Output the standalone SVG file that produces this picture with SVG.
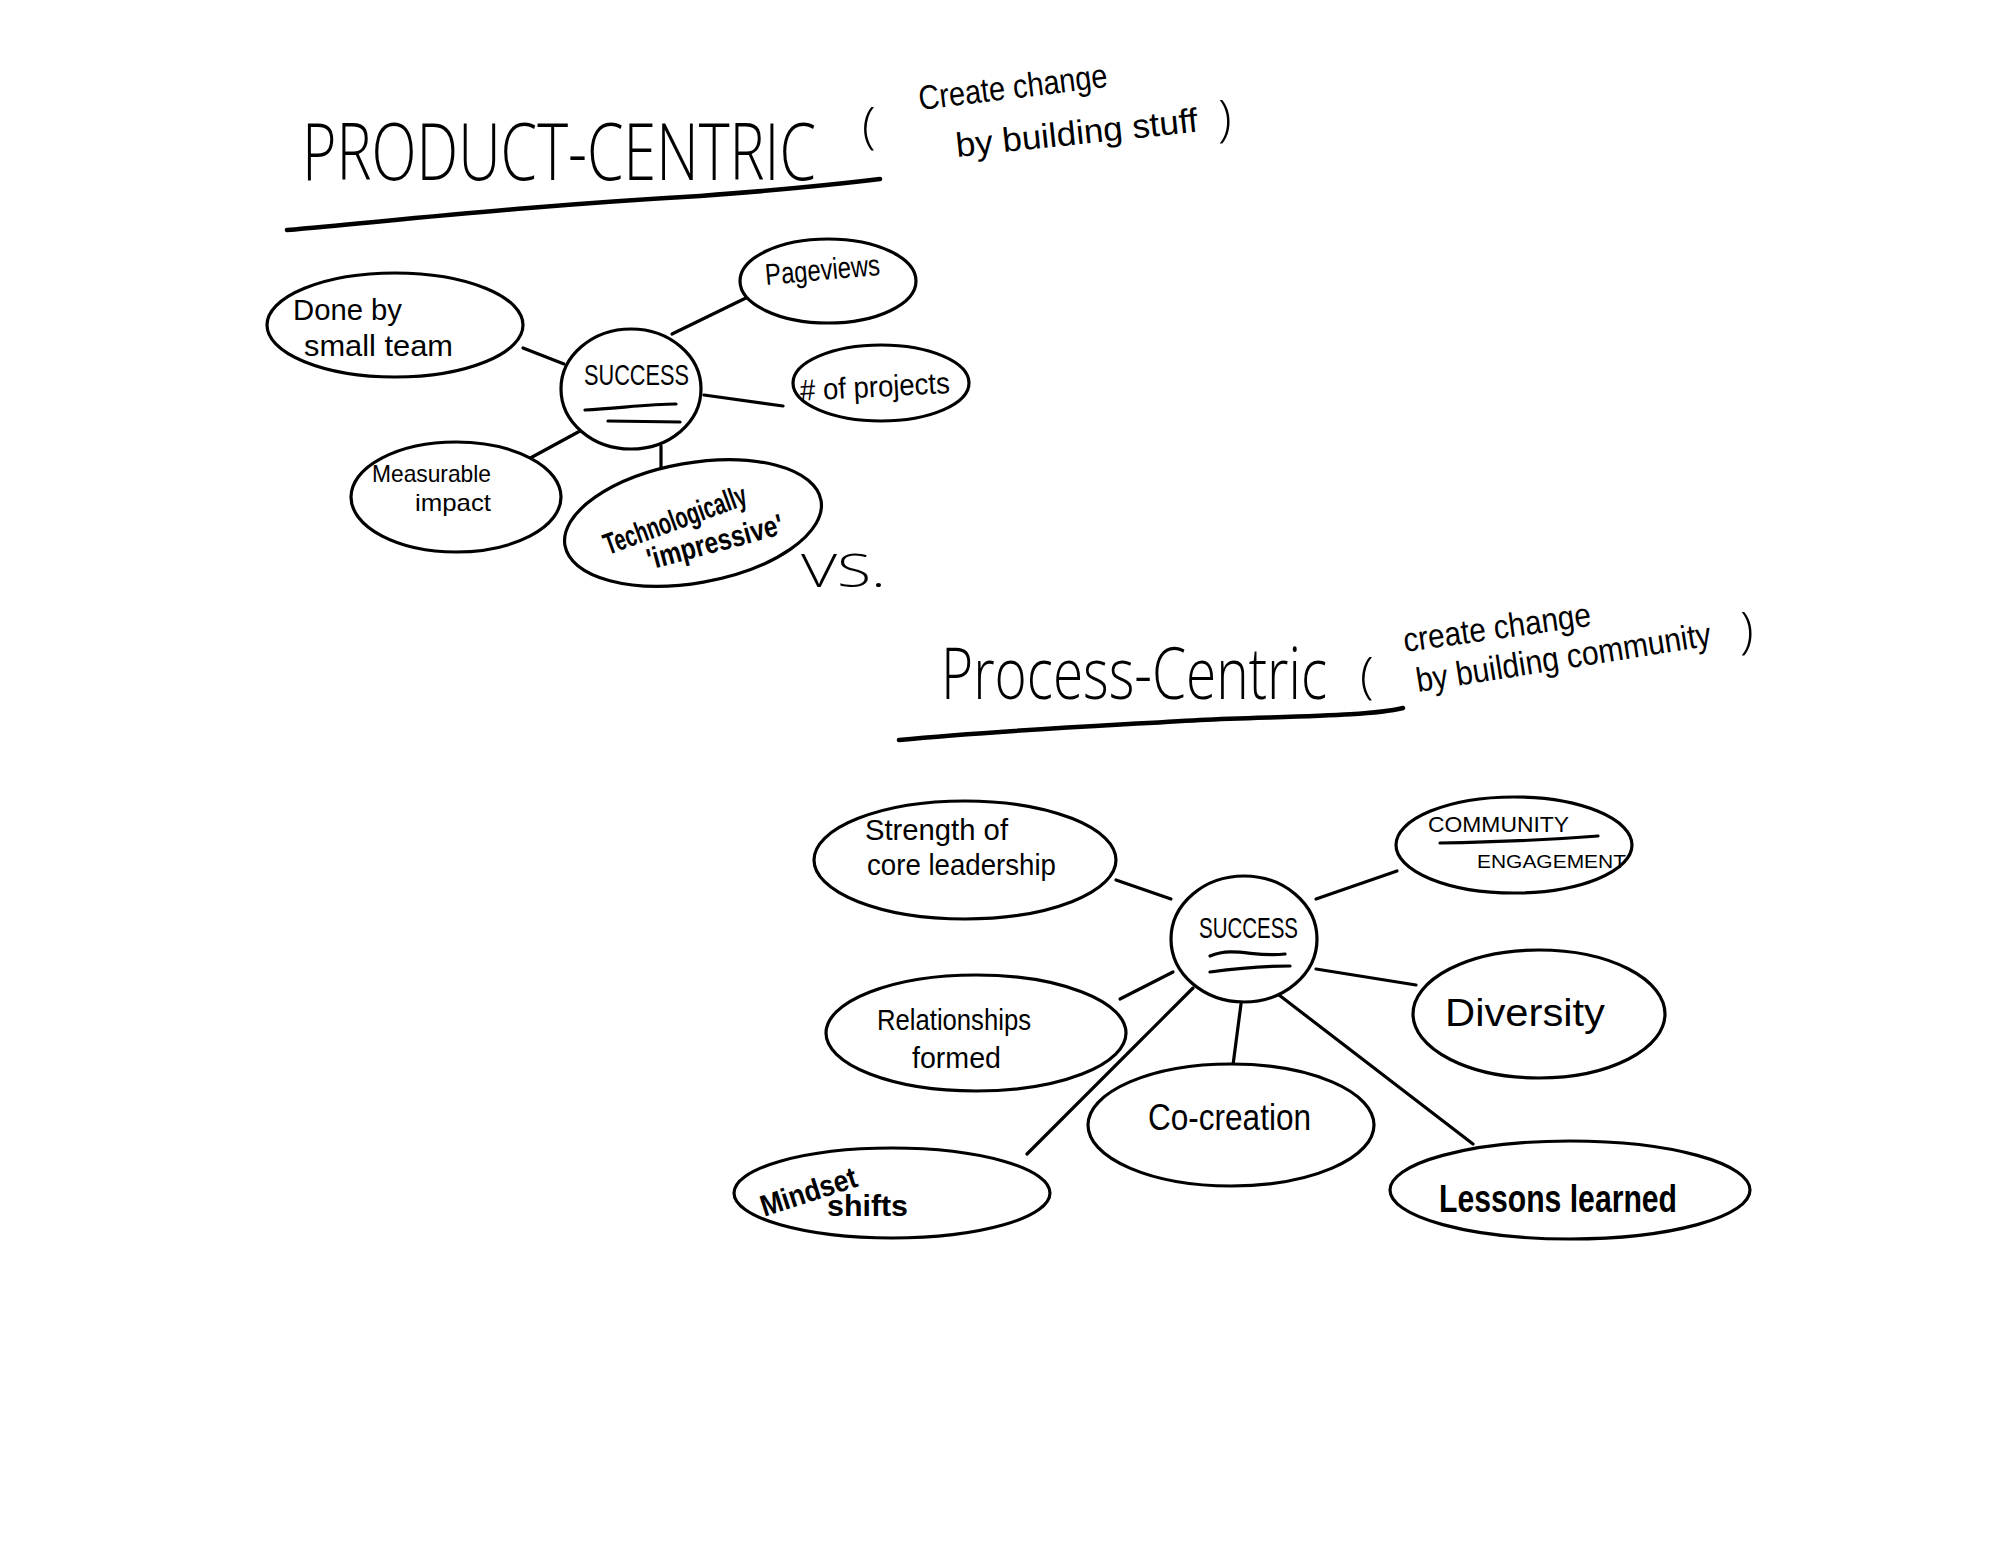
<svg xmlns="http://www.w3.org/2000/svg" width="2000" height="1545" viewBox="0 0 2000 1545">
<style>
.n{fill:#fff;stroke:#000;stroke-width:3.2}
.c{fill:none;stroke:#000;stroke-width:3.2;stroke-linecap:round}
.u{fill:none;stroke:#000;stroke-width:4.5;stroke-linecap:round}
text{font-family:"Liberation Sans",Arial,sans-serif;fill:#000}
.t{font-size:30px}
.h{font-size:80px;font-family:"DejaVu Sans ExtraLight","Open Sans","Liberation Sans",sans-serif;font-weight:200}
.s{font-size:34px}
</style>
<rect width="2000" height="1545" fill="#fff"/>
<g id="title-product">
<text class="h" x="302" y="180" textLength="514" lengthAdjust="spacingAndGlyphs">PRODUCT-CENTRIC</text>
<text class="h" x="862" y="143" style="font-size:50px">(</text>
<text class="s" x="920" y="110" textLength="190" lengthAdjust="spacingAndGlyphs" transform="rotate(-7 920 110)">Create change</text>
<text class="s" x="957" y="157" textLength="243" lengthAdjust="spacingAndGlyphs" transform="rotate(-6 957 157)">by building stuff</text>
<text class="h" x="1218" y="136" style="font-size:50px">)</text>
<path class="u" d="M287,230 C420,218 540,205 700,196 C780,190 840,184 880,179"/>
</g>
<g id="connectors">
<path class="c" d="M523,348 L564,364"/>
<path class="c" d="M672,334 L750,296"/>
<path class="c" d="M704,395 L783,406"/>
<path class="c" d="M580,431 L523,462"/>
<path class="c" d="M661,446 L661,475"/>
<path class="c" d="M1116,880 L1171,899"/>
<path class="c" d="M1397,871 L1316,899"/>
<path class="c" d="M1316,969 L1416,985"/>
<path class="c" d="M1173,972 L1120,999"/>
<path class="c" d="M1193,988 L1027,1154"/>
<path class="c" d="M1241,1004 L1233,1065"/>
<path class="c" d="M1279,995 L1473,1144"/>
</g>
<g id="p-done">
<ellipse class="n" cx="395" cy="325" rx="128" ry="52"/>
<text class="t" x="293" y="320" textLength="109" lengthAdjust="spacingAndGlyphs">Done by</text>
<text class="t" x="304" y="356" textLength="149" lengthAdjust="spacingAndGlyphs">small team</text>
</g>
<g id="p-success">
<ellipse class="n" cx="631" cy="389" rx="70" ry="60"/>
<text class="t" x="584" y="385" textLength="105" lengthAdjust="spacingAndGlyphs">SUCCESS</text>
<path class="c" d="M585,410 C620,408 650,404 676,404"/>
<path class="c" d="M608,421 L680,422"/>
</g>
<g id="p-pageviews">
<ellipse class="n" cx="828" cy="281" rx="88" ry="42"/>
<text class="t" x="765" y="280" textLength="115" lengthAdjust="spacingAndGlyphs" transform="rotate(-5 822 270)">Pageviews</text>
</g>
<g id="p-projects">
<ellipse class="n" cx="881" cy="383" rx="88" ry="38"/>
<text class="t" x="800" y="397" textLength="150" lengthAdjust="spacingAndGlyphs" transform="rotate(-3 873 390)"># of projects</text>
</g>
<g id="p-measurable">
<ellipse class="n" cx="456" cy="497" rx="105" ry="55"/>
<text class="t" x="372" y="482" textLength="119" lengthAdjust="spacingAndGlyphs" style="font-size:24px">Measurable</text>
<text class="t" x="415" y="511" textLength="76" lengthAdjust="spacingAndGlyphs" style="font-size:24px">impact</text>
</g>
<g id="p-tech">
<ellipse class="n" cx="693" cy="523" rx="130" ry="60" transform="rotate(-10 693 523)"/>
<text class="t" x="600" y="530" textLength="150" lengthAdjust="spacingAndGlyphs" transform="rotate(-20 675 520)" font-weight="bold">Technologically</text>
<text class="t" x="645" y="552" textLength="140" lengthAdjust="spacingAndGlyphs" transform="rotate(-15 715 542)" font-weight="bold">'impressive'</text>
</g>
<text class="h" x="801" y="587" textLength="85" lengthAdjust="spacingAndGlyphs" style="font-size:46px">VS.</text>
<g id="title-process">
<text class="h" x="941" y="699" textLength="386" lengthAdjust="spacingAndGlyphs" style="font-size:72px">Process-Centric</text>
<text class="h" x="1360" y="693" style="font-size:50px">(</text>
<text class="s" x="1405" y="652" textLength="189" lengthAdjust="spacingAndGlyphs" transform="rotate(-8 1405 652)">create change</text>
<text class="s" x="1418" y="692" textLength="298" lengthAdjust="spacingAndGlyphs" transform="rotate(-9 1418 692)">by building community</text>
<text class="h" x="1740" y="648" style="font-size:50px">)</text>
<path class="u" d="M899,740 C1000,730 1100,726 1200,720 C1300,716 1370,716 1403,708"/>
</g>
<g id="q-strength">
<ellipse class="n" cx="965" cy="860" rx="151" ry="59"/>
<text class="t" x="865" y="840" textLength="143" lengthAdjust="spacingAndGlyphs">Strength of</text>
<text class="t" x="867" y="875" textLength="189" lengthAdjust="spacingAndGlyphs">core leadership</text>
</g>
<g id="q-community">
<ellipse class="n" cx="1514" cy="845" rx="118" ry="48"/>
<text class="t" x="1428" y="832" textLength="141" lengthAdjust="spacingAndGlyphs" style="font-size:22px">COMMUNITY</text>
<path class="c" d="M1440,843 C1500,842 1560,839 1598,836"/>
<text class="t" x="1477" y="868" textLength="149" lengthAdjust="spacingAndGlyphs" style="font-size:19px">ENGAGEMENT</text>
</g>
<g id="q-success">
<ellipse class="n" cx="1244" cy="939" rx="73" ry="63"/>
<text class="t" x="1199" y="938" textLength="99" lengthAdjust="spacingAndGlyphs">SUCCESS</text>
<path class="c" d="M1210,956 C1235,946 1255,958 1285,954"/>
<path class="c" d="M1210,972 C1240,968 1265,966 1290,966"/>
</g>
<g id="q-relationships">
<ellipse class="n" cx="976" cy="1033" rx="150" ry="58"/>
<text class="t" x="877" y="1030" textLength="154" lengthAdjust="spacingAndGlyphs">Relationships</text>
<text class="t" x="912" y="1068" textLength="89" lengthAdjust="spacingAndGlyphs">formed</text>
</g>
<g id="q-diversity">
<ellipse class="n" cx="1539" cy="1014" rx="126" ry="64"/>
<text class="t" x="1445" y="1026" textLength="160" lengthAdjust="spacingAndGlyphs" style="font-size:38px">Diversity</text>
</g>
<g id="q-cocreation">
<ellipse class="n" cx="1231" cy="1125" rx="143" ry="61"/>
<text class="t" x="1148" y="1130" textLength="163" lengthAdjust="spacingAndGlyphs" style="font-size:36px">Co-creation</text>
</g>
<g id="q-mindset">
<ellipse class="n" cx="892" cy="1193" rx="158" ry="45"/>
<text class="t" x="758" y="1202" textLength="100" lengthAdjust="spacingAndGlyphs" transform="rotate(-18 808 1190)" font-weight="bold">Mindset</text>
<text class="t" x="827" y="1216" textLength="81" lengthAdjust="spacingAndGlyphs" font-weight="bold">shifts</text>
</g>
<g id="q-lessons">
<ellipse class="n" cx="1570" cy="1190" rx="180" ry="49"/>
<text class="t" x="1439" y="1212" textLength="238" lengthAdjust="spacingAndGlyphs" style="font-size:38px" font-weight="bold">Lessons learned</text>
</g>
</svg>
